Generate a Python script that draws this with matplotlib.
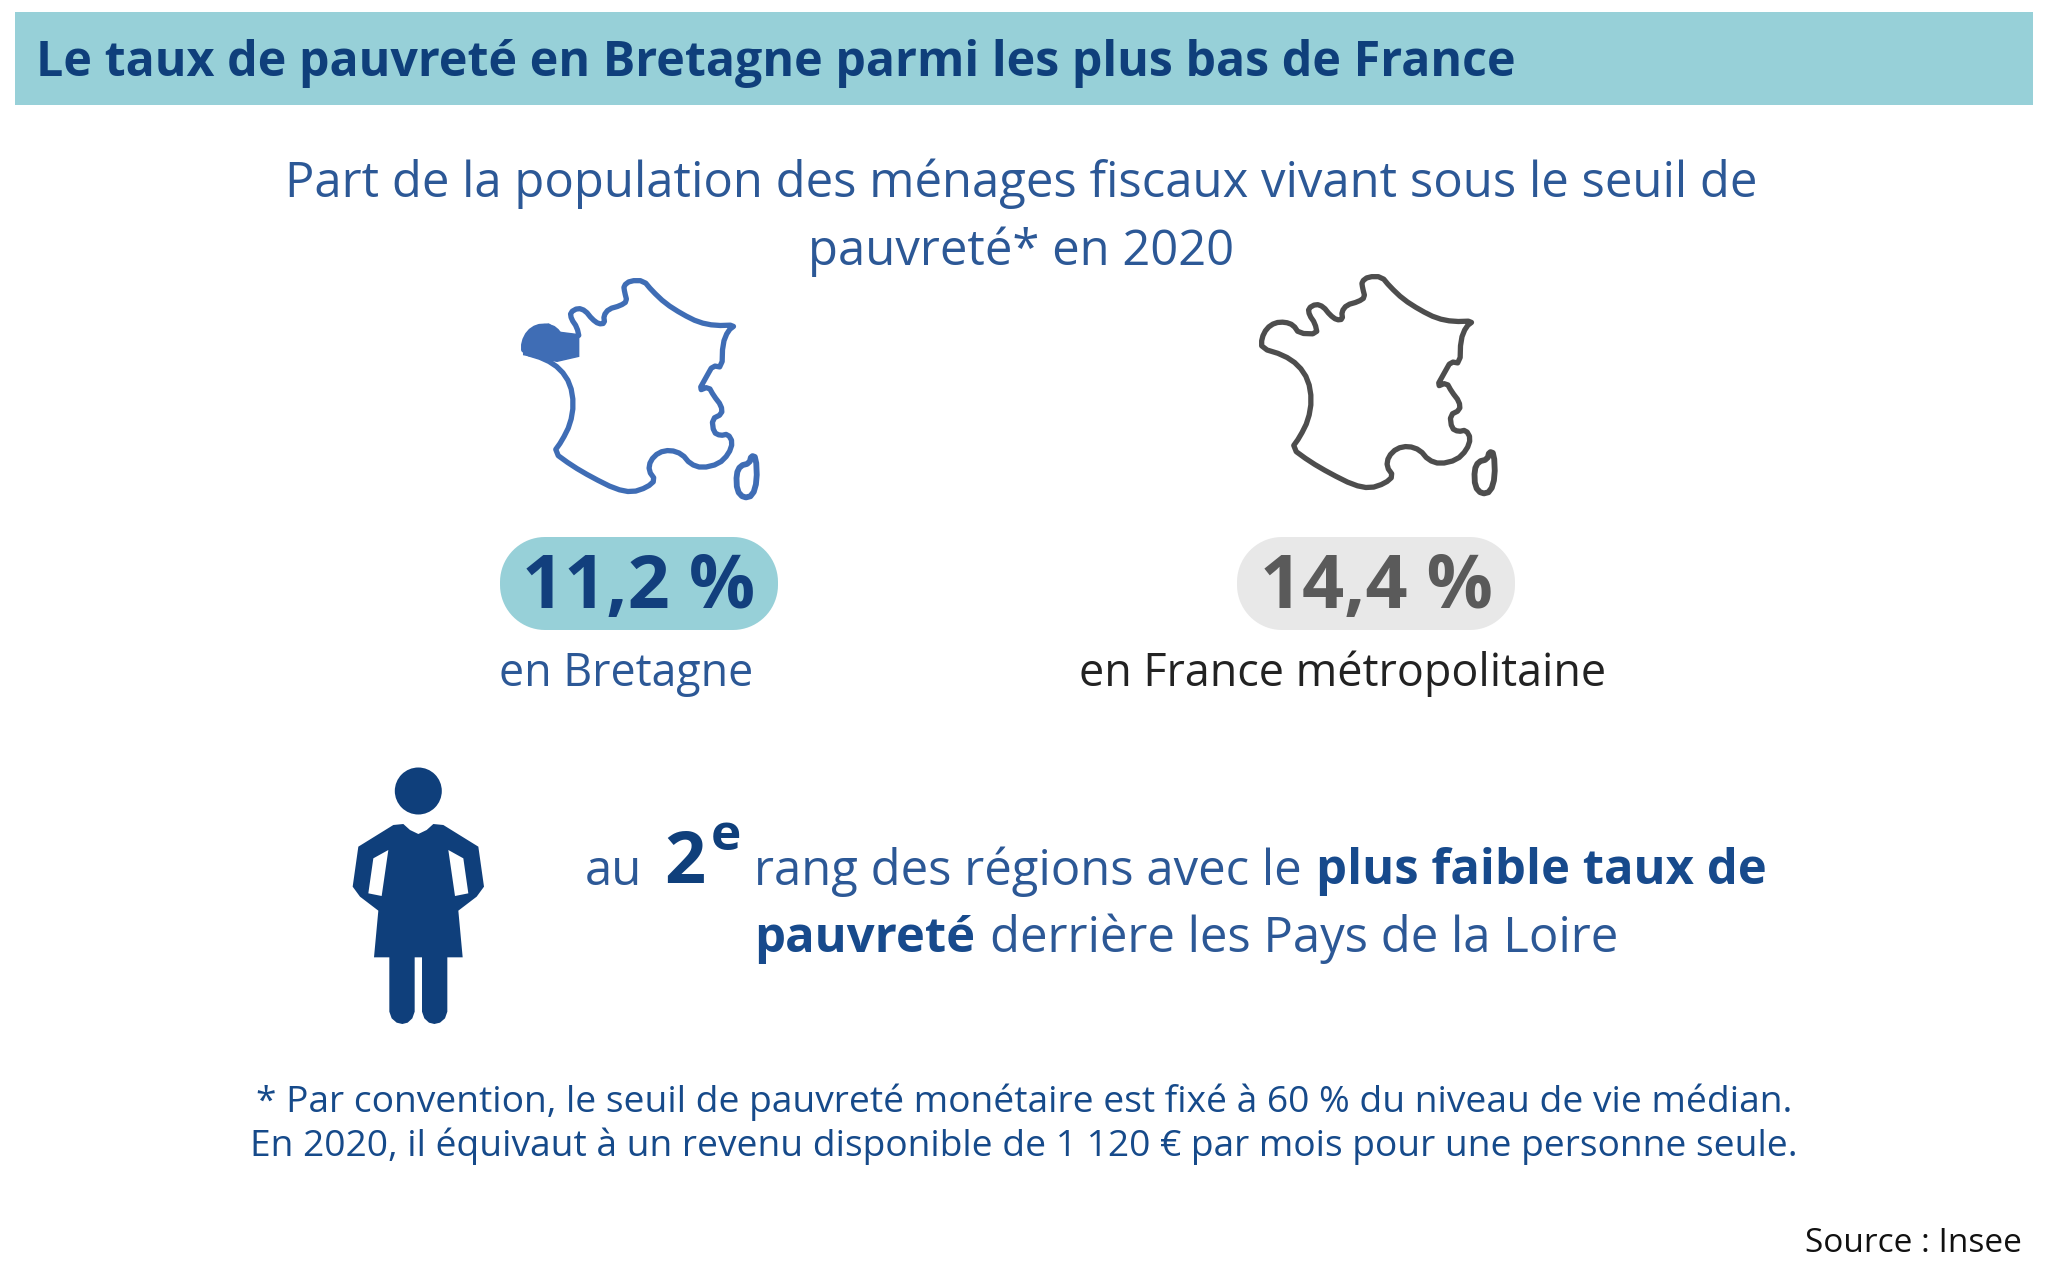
import numpy as np
import matplotlib
matplotlib.use('Agg')
import matplotlib.pyplot as plt
from matplotlib.patches import Rectangle, Circle, Polygon

plt.rcParams['font.family'] = ['Open Sans', 'DejaVu Sans']

TITLE = 'Le taux de pauvreté en Bretagne parmi les plus bas de France'
SUBTITLE = ['Part de la population des ménages fiscaux vivant sous le seuil de', 'pauvreté* en 2020']
VALUES = ['11,2 %', '14,4 %']
LABELS = ['en Bretagne', 'en France métropolitaine']
NOTES = ['* Par convention, le seuil de pauvreté monétaire est fixé à 60 % du niveau de vie médian.',
         'En 2020, il équivaut à un revenu disponible de 1 120 € par mois pour une personne seule.']

# outlines, in zoomed crop pixels
france = [(95, 265), (95, 235), (110, 205), (135, 188), (165, 186), (190, 195), (207, 220), (262, 222),
          (255, 190), (238, 165), (235, 145), (258, 132), (280, 140), (300, 165), (320, 180), (338, 178),
          (335, 155), (350, 135), (385, 125), (405, 112), (398, 85), (395, 65), (415, 50), (455, 50),
          (480, 80), (520, 118), (570, 150), (620, 175), (670, 185), (730, 183), (708, 200), (692, 240),
          (690, 310), (662, 305), (645, 335), (620, 380), (650, 368), (665, 395), (688, 425), (690, 450),
          (660, 465), (665, 505), (685, 515), (708, 510), (722, 535), (710, 570), (680, 600), (630, 612),
          (595, 600), (570, 570), (535, 558), (500, 565), (475, 590), (470, 620), (490, 648), (465, 670),
          (420, 685), (370, 675), (300, 640), (240, 605), (185, 565), (210, 530), (235, 480), (245, 420),
          (235, 360), (205, 315), (160, 285)]
corsica = [(745, 605), (772, 598), (778, 575), (792, 580), (795, 650), (782, 695), (755, 702), (735, 680), (733, 630)]
brittany = [(95, 272), (95, 235), (110, 205), (135, 185), (170, 180), (205, 205), (260, 212), (260, 277),
            (195, 292), (145, 282)]
person_half = [(265, 252), (290, 240), (310, 222), (340, 225), (445, 290), (462, 410), (440, 440), (385, 482),
               (398, 622), (352, 622), (352, 785), (345, 805), (330, 818), (313, 822), (297, 818), (283, 805),
               (276, 785), (276, 622), (265, 622)]
arm_gap = [(355, 300), (400, 325), (415, 430), (375, 438)]


def smooth(pts, n=2):
    pts = np.array(pts, dtype=float)
    for i in range(n):
        nxt = np.roll(pts, -1, axis=0)
        q = 0.75 * pts + 0.25 * nxt
        r = 0.25 * pts + 0.75 * nxt
        pts = np.empty((len(q) * 2, 2))
        pts[0::2] = q
        pts[1::2] = r
    return pts


def crop(pts, ox, oy):
    return np.array(pts, dtype=float) / 3 + [ox, oy]


def draw_map(ax, ox, oy, color):
    ax.add_patch(Polygon(crop(smooth(france, 1), ox, oy), closed=True, fill=False, ec=color, lw=3.8, joinstyle='round'))
    ax.add_patch(Polygon(crop(smooth(corsica, 1), ox, oy), closed=True, fill=False, ec=color, lw=4.2, joinstyle='round'))


def pill(ax, x, y, w, h, r, color):
    # rounded box with true circular corners
    t = np.linspace(0, np.pi / 2, 20)
    pts = []
    for cx, cy, a in [(x + w - r, y + r, -np.pi / 2), (x + w - r, y + h - r, 0),
                      (x + r, y + h - r, np.pi / 2), (x + r, y + r, np.pi)]:
        pts.append(np.column_stack([cx + r * np.cos(t + a), cy + r * np.sin(t + a)]))
    ax.add_patch(Polygon(np.vstack(pts), closed=True, fc=color, ec='none'))


fig = plt.figure(figsize=(20.48, 12.8), dpi=100)
ax = fig.add_axes([0, 0, 1, 1])
ax.set_xlim(0, 2048)
ax.set_ylim(1280, 0)
ax.axis('off')

ax.add_patch(Rectangle((15, 12), 2018, 93, fc='#97d0d8', ec='none'))
ax.text(36, 64, TITLE, fontsize=34.8, fontweight='bold', color='#0f3f7b', va='center', ha='left')

for line, y in zip(SUBTITLE, [184, 252]):
    ax.text(1021, y, line, fontsize=35.3, color='#2c5896', va='center', ha='center')

# maps
draw_map(ax, 492, 264, '#3f6db5')
ax.add_patch(Polygon(crop(brittany, 492, 264), closed=True, fc='#3f6db5', ec='#3f6db5', lw=1))
draw_map(ax, 1230, 260, '#4d4d4d')

# value pills
for x, txt, fc, tc in zip([500, 1237], VALUES, ['#97d0d8', '#e8e8e8'], ['#123f7d', '#5a5a5a']):
    pill(ax, x, 537, 278, 93, 45, fc)
    ax.text(x + 139, 589, txt, fontsize=53, fontweight='bold', color=tc, va='center', ha='center')

ax.text(499, 674, LABELS[0], fontsize=32.2, color='#2c5896', va='center', ha='left')
ax.text(1343, 674, LABELS[1], fontsize=32.3, color='#222222', va='center', ha='center')

# person
right = np.array(person_half, dtype=float)
left = right[::-1].copy()
left[:, 0] = 530 - left[:, 0]
ax.add_patch(Polygon(crop(np.vstack([right, left]), 330, 750), closed=True, fc='#0f3f7b', ec='none'))
gap_l = np.array(arm_gap, dtype=float)
gap_l[:, 0] = 530 - gap_l[:, 0]
ax.add_patch(Polygon(crop(arm_gap, 330, 750), closed=True, fc='white', ec='none'))
ax.add_patch(Polygon(crop(gap_l, 330, 750), closed=True, fc='white', ec='none'))
ax.add_patch(Circle((418.3, 791), 23.5, fc='#0f3f7b', ec='none'))

# rank sentence
c = '#2c5896'
ax.text(585, 872, 'au', fontsize=35.3, color=c, va='center', ha='left')
ax.text(664, 864, '2', fontsize=52, fontweight='bold', color='#0f3f7b', va='center', ha='left')
ax.text(711, 837, 'e', fontsize=37, fontweight='bold', color='#0f3f7b', va='center', ha='left')
ax.text(754, 872, 'rang des régions avec le', fontsize=35.3, color=c, va='center', ha='left')
ax.text(1316, 872, 'plus faible taux de', fontsize=35.3, fontweight='bold', color='#174a8c', va='center', ha='left')
ax.text(754, 939, 'pauvreté', fontsize=35.3, fontweight='bold', color='#174a8c', va='center', ha='left')
ax.text(990, 939, 'derrière les Pays de la Loire', fontsize=35.3, color=c, va='center', ha='left')

for line, y in zip(NOTES, [1102, 1146]):
    ax.text(1024, y, line, fontsize=26.7, color='#164a8a', va='center', ha='center')

ax.text(2022, 1243, 'Source : Insee', fontsize=24, color='#111111', va='center', ha='right')

fig.savefig('out.png', dpi=100, facecolor='white')
